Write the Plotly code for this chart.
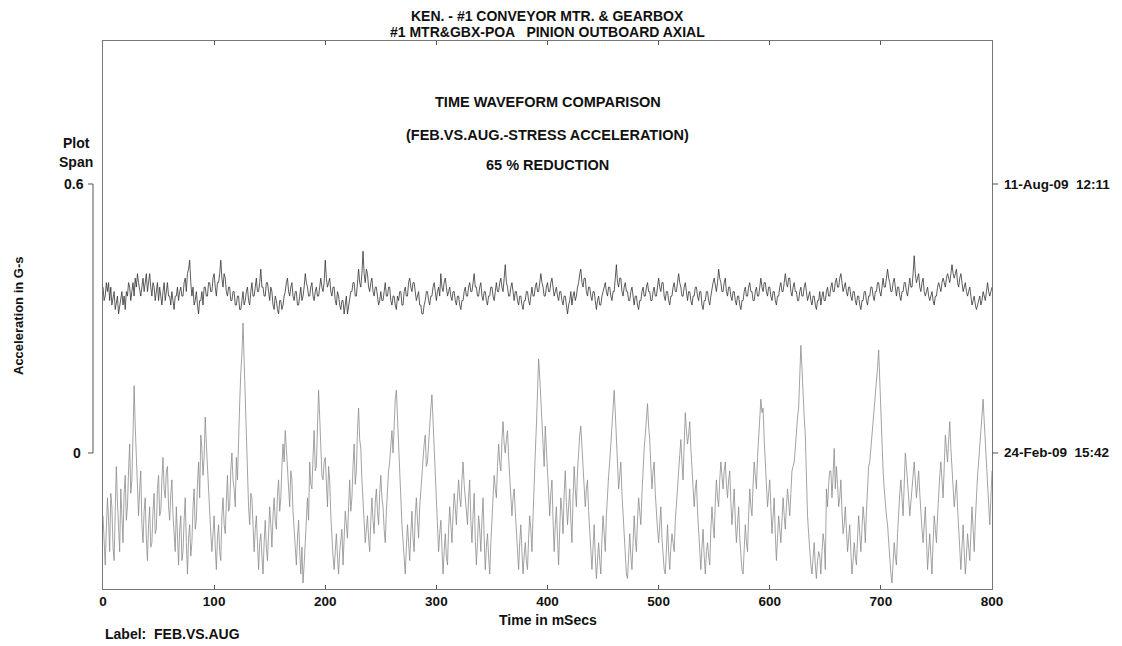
import plotly.graph_objects as go

# ---------------- data ----------------
SAMPLE_STEP_MS = 1          # one sample per millisecond
CENTI = 100.0               # values below are stored in hundredths of a G

feb_centi_g = [
    -14,-19,-25,-17,-10,-15,-22,-9,-12,-21,-24,-13,-3,-11,-18,-22,-8,-15,-20,-9,-5,-15,-12,-4,2,-9,-6,4,15,6,-2,-9,-14,-8,-4,-16,-20,-13,-10,-19,
    -24,-16,-12,-21,-20,-13,-9,-18,-17,-8,-5,-14,-13,-6,-1,-8,-10,-4,-3,-12,-15,-9,-6,-14,-19,-22,-12,-18,-25,-17,-14,-24,-22,-15,-10,-20,-27,-19,-16,-23,
    -20,-12,-8,-17,-15,-7,-2,-10,4,1,-5,-1,8,2,-4,-9,-12,-18,-22,-16,-14,-21,-26,-19,-16,-22,-24,-14,-10,-16,-18,-11,-5,-13,-12,-4,0,-6,-8,-12,
    -1,-6,5,11,18,22,29,21,10,2,-5,-12,-16,-9,-10,-18,-22,-17,-14,-20,-26,-20,-18,-23,-27,-20,-15,-21,-24,-18,-12,-16,-21,-14,-10,-15,-17,-9,-6,-13,
    -10,-3,2,-2,5,1,-4,-9,-12,-4,-6,-13,-18,-21,-25,-19,-15,-22,-27,-21,-29,-25,-20,-14,-10,-15,-2,-7,-8,-1,5,-4,-3,6,14,8,2,-5,-6,-2,
    -1,-8,-12,-3,-6,-14,-20,-23,-26,-21,-18,-23,-27,-22,-20,-17,-25,-18,-13,-16,-19,-12,-6,-13,-10,-3,2,-7,-4,5,10,3,1,-6,-12,-16,-20,-17,-14,-19,
    -22,-15,-10,-15,-18,-11,-8,-13,-16,-9,-5,-10,-12,-17,-20,-13,-8,-4,-2,1,5,0,9,12,14,7,3,-4,-10,-16,-20,-23,-27,-21,-16,-20,-24,-18,-13,-19,
    -22,-14,-10,-15,-19,-12,-8,-5,-2,2,4,-3,-2,3,8,10,13,7,2,-6,-12,-17,-22,-18,-15,-21,-27,-22,-18,-23,-25,-17,-12,-16,-20,-14,-9,-12,-16,-10,
    -6,-10,-12,-6,-2,-7,-10,-14,-16,-10,-6,-15,-20,-14,-9,-19,-25,-20,-14,-17,-22,-15,-10,-19,-26,-21,-18,-23,-27,-20,-14,-9,-5,-8,-10,-3,2,-2,-4,3,
    7,2,0,3,5,-1,-6,-11,-14,-10,-8,-13,-18,-21,-26,-20,-16,-22,-27,-23,-20,-24,-26,-19,-14,-17,-22,-14,-5,0,6,14,21,17,12,8,2,-3,6,1,
    -4,-10,-14,-9,-6,-15,-22,-16,-12,-19,-25,-17,-10,-13,-18,-9,-4,-11,-16,-12,-8,-15,-20,-10,-3,-8,-12,-4,1,4,6,1,-2,-8,-12,-8,-6,-13,-18,-23,
    -26,-21,-16,-23,-28,-24,-20,-24,-27,-19,-14,-18,-22,-14,-8,-5,-2,2,6,10,14,9,3,-3,-8,-5,-2,-9,-14,-19,-24,-27,-28,-22,-18,-23,-26,-20,-14,-19,
    -22,-15,-10,-13,-16,-9,-2,1,4,8,11,6,3,-3,-8,-4,-2,-9,-14,-17,-20,-15,-12,-19,-24,-26,-27,-21,-16,-22,-26,-21,-18,-20,-22,-15,-10,-8,-4,-1,
    3,-2,-6,2,9,5,2,4,7,1,-4,-9,-12,-8,-6,-13,-18,-22,-26,-21,-17,-23,-27,-22,-20,-23,-25,-17,-12,-16,-19,-11,-6,-10,-12,-6,-2,-5,-8,-4,
    -2,-7,-10,-6,-4,-11,-16,-12,-8,-15,-20,-16,-12,-19,-24,-26,-27,-21,-16,-20,-22,-14,-8,-12,-14,-7,-2,-5,-8,-1,4,8,12,9,10,3,-2,-8,-12,-9,
    -6,-12,-18,-14,-10,-18,-24,-19,-14,-17,-20,-15,-10,-14,-17,-12,-8,-11,-14,-9,-4,-3,-2,1,5,8,10,17,24,19,12,8,4,-6,-14,-18,-22,-25,-27,-23,
    -20,-25,-28,-24,-22,-23,-27,-22,-18,-20,-26,-8,-12,-7,-4,-4,-10,-5,1,-8,-3,-7,-12,-10,-6,-13,-18,-16,-12,-17,-22,-19,-16,-22,-27,-24,-20,-23,-25,-19,
    -14,-18,-22,-17,-12,-15,-20,-13,-6,-3,-2,1,4,7,10,12,14,19,23,16,6,1,-4,-8,-12,-14,-16,-20,-24,-27,-29,-24,-20,-23,-25,-18,-12,-9,-6,-10,
    -14,-7,0,-3,-6,-10,-14,-11,-8,-5,-2,-6,-10,-7,-4,-9,-14,-17,-20,-16,-12,-19,-26,-22,-18,-23,-27,-20,-14,-17,-20,-14,-8,-5,-2,-6,-10,-3,4,1,
    -2,3,7,1,-4,-8,-12,-9,-6,-12,-18,-22,-26,-21,-16,-22,-27,-23,-18,-21,-24,-18,-12,-17,-22,-15,-8,-5,-2,2,6,9,12,7,2,-3,-8,-12,-16,-10,
    -4,
]

aug_centi_g = [
    37,34,35,38,36,38,34,37,33,35,36,32,34,35,31,33,34,36,33,35,32,36,35,38,37,34,36,38,35,39,37,40,38,36,35,37,39,36,38,40,
    36,39,40,37,35,38,37,34,36,38,34,37,35,33,36,38,34,36,38,35,35,33,36,34,32,35,35,37,34,36,37,35,35,38,39,36,40,41,43,38,
    35,37,33,34,36,33,31,34,34,36,33,37,37,35,35,38,38,36,36,39,40,37,35,38,38,40,43,39,37,40,39,36,35,37,37,34,34,36,36,33,
    33,35,35,32,32,34,36,33,34,36,37,34,33,36,38,35,35,37,39,36,36,38,41,37,37,35,35,38,38,36,34,37,36,33,32,35,34,32,31,34,
    34,32,33,35,36,38,39,36,35,37,38,35,34,36,36,33,33,35,37,34,35,37,40,38,37,35,35,37,38,35,34,36,37,35,35,37,39,37,36,38,
    43,39,37,38,39,36,35,37,37,34,33,36,35,33,32,34,34,31,33,35,31,33,34,36,36,38,38,35,35,38,41,38,37,40,45,40,38,41,40,37,
    36,38,39,36,35,37,37,35,33,34,36,34,34,36,38,35,35,37,37,34,33,35,35,33,32,35,34,36,36,33,33,36,37,35,35,38,39,37,36,38,
    38,36,34,35,36,33,33,31,31,33,34,36,36,34,33,35,35,37,38,36,34,36,37,35,40,37,36,38,39,37,35,36,37,35,34,36,36,34,33,35,
    35,33,32,34,34,36,37,35,35,37,38,36,36,38,40,37,37,35,35,37,38,35,34,36,36,34,33,35,35,37,37,35,34,36,38,36,36,38,39,37,
    36,39,42,38,37,35,35,37,38,36,34,36,36,34,33,35,35,33,32,34,34,36,36,34,33,35,37,35,35,37,38,36,36,38,40,38,37,35,35,37,
    38,36,36,38,39,37,35,36,37,35,34,36,36,34,33,35,35,33,31,33,34,36,33,35,36,34,35,37,38,40,41,38,37,39,39,36,35,37,37,35,
    34,36,36,34,32,34,35,33,33,35,36,37,38,36,35,37,37,35,34,36,36,39,42,38,37,39,39,36,35,37,38,36,36,34,34,36,37,35,33,35,
    35,33,32,34,34,36,37,35,35,37,38,36,36,34,34,36,37,35,35,37,39,37,36,38,38,35,34,36,36,34,33,35,35,37,38,36,36,38,40,38,
    37,35,35,37,38,36,34,36,36,34,33,35,35,37,37,35,34,36,36,33,32,34,34,36,36,34,33,35,37,38,39,37,36,38,41,39,38,36,36,38,
    39,36,35,37,37,35,34,36,36,34,33,35,35,33,32,34,34,36,37,35,35,37,38,36,36,34,34,36,37,35,35,37,39,37,36,38,38,36,35,37,
    37,35,34,36,36,34,33,35,35,37,38,36,36,38,40,38,37,39,39,36,35,37,38,36,36,34,34,36,37,35,35,37,38,36,34,35,36,34,33,35,
    35,33,32,34,34,36,33,35,36,34,34,36,37,35,35,37,38,36,36,38,39,37,37,39,40,38,36,37,38,36,35,37,37,35,34,36,36,34,33,35,
    35,33,32,34,34,36,36,34,33,35,35,37,37,35,34,36,36,38,38,36,35,37,39,37,37,39,41,39,38,36,36,38,39,37,35,37,37,35,34,36,
    36,38,38,36,35,37,39,37,37,40,44,40,38,39,40,37,36,38,39,36,35,36,37,35,34,35,36,34,33,35,35,37,38,37,36,38,39,38,37,39,
    40,39,38,40,42,40,39,40,41,38,37,39,40,38,36,37,38,36,35,36,37,35,33,34,35,33,32,33,34,35,33,34,36,35,34,36,38,36,35,36,
    37,
]

feb_g = [v / CENTI for v in feb_centi_g]
aug_g = [v / CENTI for v in aug_centi_g]
feb_time_ms = [i * SAMPLE_STEP_MS for i in range(len(feb_g))]
aug_time_ms = [i * SAMPLE_STEP_MS for i in range(len(aug_g))]

x_ticks = [0, 100, 200, 300, 400, 500, 600, 700, 800]
span_ticks = [0.6, 0]
span_labels = ["0.6", "0"]
trace_dates = ["11-Aug-09  12:11", "24-Feb-09  15:42"]

title_lines = ["KEN. - #1 CONVEYOR MTR. & GEARBOX", "#1 MTR&GBX-POA   PINION OUTBOARD AXIAL"]
inner_lines = ["TIME WAVEFORM COMPARISON", "(FEB.VS.AUG.-STRESS ACCELERATION)", "65 % REDUCTION"]

# ---------------- figure ----------------
FONT = "Liberation Sans, Arial, Helvetica, sans-serif"
BOLD = dict(family=FONT, color="#111", weight="bold")

fig = go.Figure()
fig.add_trace(go.Scatter(x=feb_time_ms, y=feb_g, mode="lines",
                         line=dict(color="#8c8c8c", width=0.8), showlegend=False,
                         name="24-Feb-09"))
fig.add_trace(go.Scatter(x=aug_time_ms, y=aug_g, mode="lines",
                         line=dict(color="#333333", width=0.8), showlegend=False,
                         name="11-Aug-09"))

fig.update_layout(
    width=1122, height=646,
    margin=dict(l=103, r=130, t=41, b=57),
    paper_bgcolor="white", plot_bgcolor="white",
    font=dict(family=FONT, color="#111", size=14),
    xaxis=dict(range=[0, 800], tickvals=x_ticks, ticks="inside", ticklen=4,
               tickcolor="#555", showline=True, linecolor="#777", linewidth=1,
               mirror="ticks", showgrid=False, zeroline=False,
               tickfont=dict(BOLD, size=13.5)),
    yaxis=dict(range=[-0.3034, 0.919], showticklabels=False, ticks="",
               showline=True, linecolor="#777", linewidth=1, mirror=True,
               showgrid=False, zeroline=False),
)

ann = []
for line, py in zip(title_lines, [16, 32]):
    ann.append(dict(text=line, xref="paper", yref="paper", x=0.5, y=1,
                    yshift=41 - py, showarrow=False, xanchor="center", yanchor="middle",
                    font=dict(BOLD, size=14)))
for line, py in zip(inner_lines, [102, 135, 165]):
    ann.append(dict(text=line, xref="paper", yref="paper", x=0.5, y=1,
                    yshift=41 - py, showarrow=False, xanchor="center", yanchor="middle",
                    font=dict(BOLD, size=14.5)))
# Plot span scale bar labels
for txt, dy in [("Plot", 41), ("Span", 22)]:
    ann.append(dict(text=txt, xref="paper", yref="y", x=0, xshift=-27, y=span_ticks[0],
                    yshift=dy, showarrow=False, xanchor="center", yanchor="middle",
                    font=dict(BOLD, size=14)))
for v, lab, dx in zip(span_ticks, span_labels, [-17, -20]):
    ann.append(dict(text=lab, xref="paper", yref="y", x=0, xshift=dx, y=v,
                    showarrow=False, xanchor="right", yanchor="middle",
                    font=dict(BOLD, size=14)))
for v, lab in zip(span_ticks, trace_dates):
    ann.append(dict(text=lab, xref="paper", yref="y", x=1, xshift=10, y=v,
                    showarrow=False, xanchor="left", yanchor="middle",
                    font=dict(BOLD, size=13.5)))
ann.append(dict(text="Acceleration in G-s", xref="paper", yref="paper", x=0, xshift=-85,
                y=1, yshift=41 - 316, showarrow=False, textangle=-90,
                xanchor="center", yanchor="middle", font=dict(BOLD, size=13)))
ann.append(dict(text="Time in mSecs", xref="paper", yref="paper", x=0.5, y=0,
                yshift=-31, showarrow=False, xanchor="center", yanchor="middle",
                font=dict(BOLD, size=14)))
ann.append(dict(text="Label:  FEB.VS.AUG", xref="paper", yref="paper", x=0, y=0,
                yshift=-45, showarrow=False, xanchor="left", yanchor="middle",
                font=dict(BOLD, size=14)))
fig.update_layout(annotations=ann)

shapes = []
bar_x = (93 - 103) / 889.0
tick_x = (88 - 103) / 889.0
shapes.append(dict(type="line", xref="paper", yref="y", x0=bar_x, x1=bar_x,
                   y0=span_ticks[1], y1=span_ticks[0], line=dict(color="#555", width=1)))
for v in span_ticks:
    shapes.append(dict(type="line", xref="paper", yref="y", x0=tick_x, x1=bar_x,
                       y0=v, y1=v, line=dict(color="#555", width=1)))
    shapes.append(dict(type="line", xref="paper", yref="y", x0=1.0, x1=1.007,
                       y0=v, y1=v, line=dict(color="#555", width=1)))
fig.update_layout(shapes=shapes)

fig.write_html("out.html", config={"displayModeBar": False},
               post_script="document.body.style.margin='0px';")
